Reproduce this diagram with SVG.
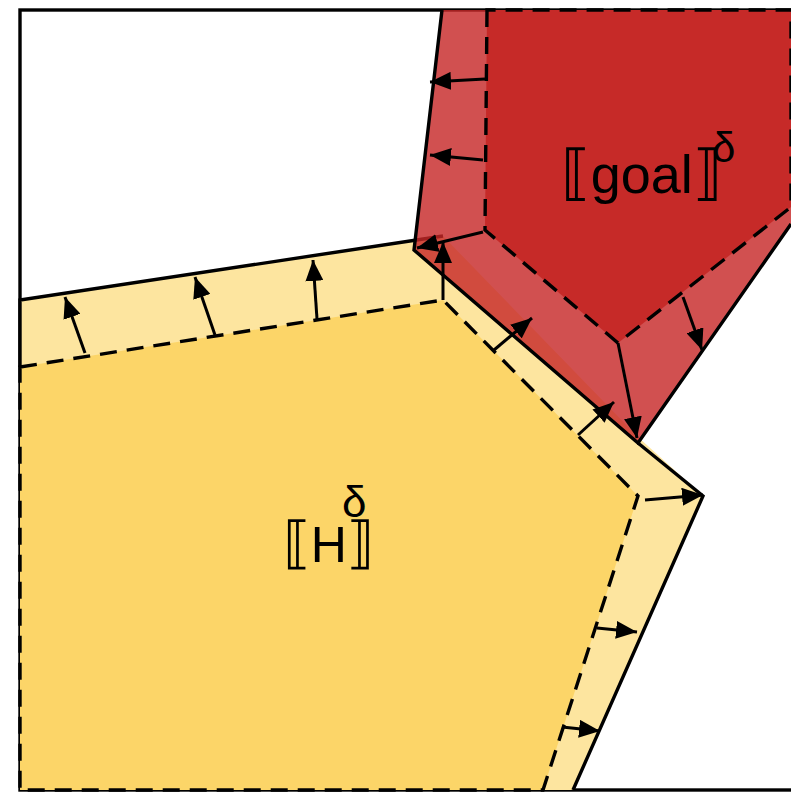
<svg xmlns="http://www.w3.org/2000/svg" width="791" height="793" viewBox="0 0 791 793">
<defs>
<marker id="ah" markerUnits="userSpaceOnUse" markerWidth="22" markerHeight="18" refX="21" refY="9" orient="auto">
<path d="M0,0 L21,9 L0,18 z" fill="#000"/>
</marker>
<style>
.frame{fill:none;stroke:#000;stroke-width:3.4}
.solid{fill:none;stroke:#000;stroke-width:3.4;stroke-linejoin:miter}
.dash{stroke:#000;stroke-width:3.4;stroke-dasharray:17 10}
.arr{stroke:#000;stroke-width:3;fill:none;marker-end:url(#ah)}
.lbl{font-family:"Liberation Sans","DejaVu Sans",sans-serif;fill:#000}
.br{font-family:"DejaVu Sans",sans-serif}
</style>
</defs>
<rect class="frame" x="20" y="10" width="800" height="780"/>
<g id="H">
<polygon points="20,300 443,236 638,437 703,496 573,790 20,790" fill="#FDE59F"/>
<polygon class="dash" points="20,367 443,300 638,496 543,790 20,790" fill="#FCD568"/>
<path class="solid" d="M20,367 L20,300 L443,236 M638,443 L703,496 L573,790"/>
<text class="lbl" x="283" y="562" font-size="50"><tspan class="br" font-size="56">⟦</tspan>H<tspan class="br" font-size="56">⟧</tspan></text>
<text class="lbl" x="342" y="517" font-size="44">δ</text>
</g>
<g id="goal">
<polygon points="442,10 414,250 638,443 791,224 791,10" fill="#C62828" fill-opacity="0.81"/>
<path class="solid" d="M442,10 L414,250 L638,443 L791,224"/>
<polygon class="dash" points="487,10 485,230 618,343 791,207 791,10" fill="#C62A28"/>
<text class="lbl" x="561" y="193" font-size="54"><tspan class="br" font-size="60">⟦</tspan>goal<tspan class="br" font-size="60">⟧</tspan></text>
<text class="lbl" x="712" y="162" font-size="42">δ</text>
</g>
<g id="connectors">
<line class="arr" x1="85" y1="353" x2="65" y2="297"/>
<line class="arr" x1="215" y1="335" x2="195" y2="277"/>
<line class="arr" x1="317" y1="319" x2="313" y2="260"/>
<line class="arr" x1="443" y1="300" x2="443" y2="242"/>
<line class="arr" x1="494" y1="350" x2="532" y2="318"/>
<line class="arr" x1="578" y1="435" x2="614" y2="402"/>
<line class="arr" x1="645" y1="500" x2="703" y2="495"/>
<line class="arr" x1="597" y1="628" x2="637" y2="632"/>
<line class="arr" x1="562" y1="727" x2="600" y2="731"/>
<line class="arr" x1="485" y1="79" x2="430" y2="82"/>
<line class="arr" x1="483" y1="160" x2="430" y2="155"/>
<line class="arr" x1="483" y1="232" x2="417" y2="248"/>
<line class="arr" x1="683" y1="297" x2="702" y2="350"/>
<line class="arr" x1="618" y1="343" x2="637" y2="438"/>
</g>
</svg>
